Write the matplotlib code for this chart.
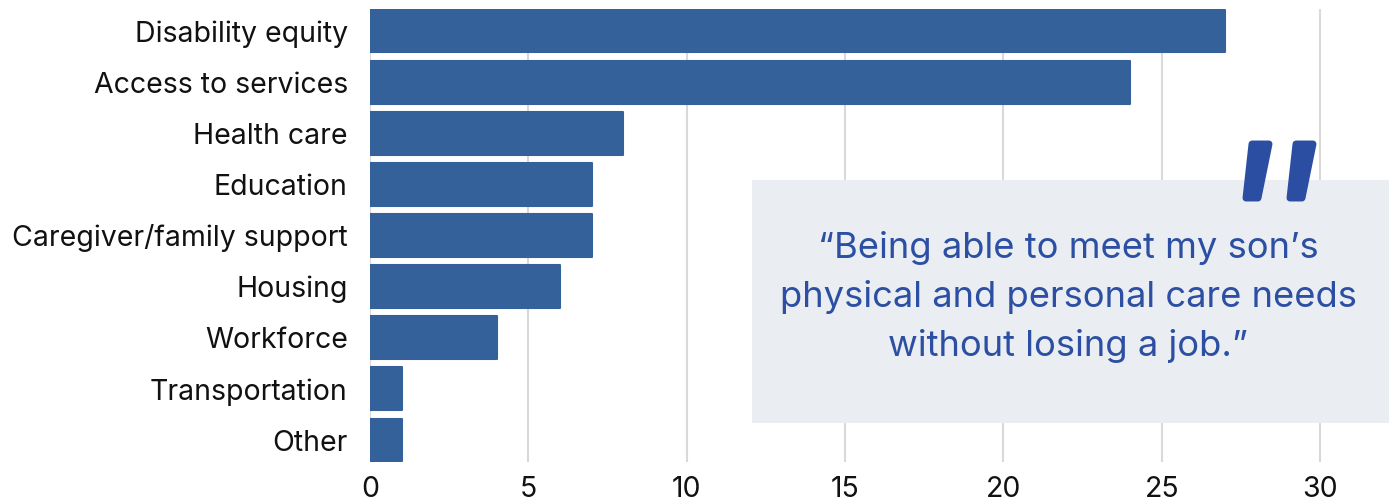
import matplotlib
matplotlib.use("Agg")
import matplotlib.pyplot as plt
from matplotlib.patches import Rectangle, Polygon

categories = ["Disability equity", "Access to services", "Health care", "Education",
              "Caregiver/family support", "Housing", "Workforce", "Transportation", "Other"]
values = [27, 24, 8, 7, 7, 6, 4, 1, 1]
xticks = [0, 5, 10, 15, 20, 25, 30]
quote = "\u201cBeing able to meet my son\u2019s\nphysical and personal care needs\nwithout losing a job.\u201d"

W, H = 1389, 503
fig = plt.figure(figsize=(W / 100, H / 100), dpi=100)
ax = fig.add_axes([370 / W, (H - 462) / H, 1 - 370 / W, (462 - 9) / H])

bar_color = "#34619a"
y = list(range(len(categories)))
ax.barh(y, values, height=0.84, color=bar_color, edgecolor=bar_color,
        linewidth=1.5, joinstyle="round", zorder=3)
ax.set_yticks(y)
ax.set_yticklabels(categories)
ax.set_ylim(len(categories) - 1 + 0.43, -0.43)
ax.set_xlim(0, (W - 370) / 31.67)
ax.set_xticks(xticks)
ax.set_xticklabels([str(t) for t in xticks])
ax.grid(axis="x", color="#d9d9d9", linewidth=1.5, zorder=0)
ax.grid(axis="y", visible=False)
for s in ax.spines.values():
    s.set_visible(False)
ax.tick_params(axis="both", length=0, labelsize=20.5, colors="#111111")
ax.tick_params(axis="x", pad=10)
ax.tick_params(axis="y", pad=16)
for lab in ax.get_xticklabels() + ax.get_yticklabels():
    lab.set_fontfamily("Inter")

# Quote box
fig.patches.append(Rectangle((752 / W, (H - 423) / H), 1 - 752 / W, (423 - 180) / H,
                             transform=fig.transFigure, facecolor="#eaeef2",
                             edgecolor="none", zorder=5))
fig.text(1068 / W, (H - 297) / H, quote, ha="center", va="center", fontsize=26.2,
         color="#2c4fa3", family="Inter", linespacing=1.55, zorder=6)

# Big decorative quote marks
qc = "#2b4ea3"
for x0 in (1243, 1287):
    pts = [(x0 + 9, 144), (x0 + 26, 144), (x0 + 15, 198), (x0 + 3, 198)]
    fig.patches.append(Polygon([(px / W, (H - py) / H) for px, py in pts], closed=True,
                               transform=fig.transFigure, facecolor=qc, edgecolor=qc,
                               linewidth=5, joinstyle="round", zorder=7))

fig.savefig("out.png", dpi=100)
